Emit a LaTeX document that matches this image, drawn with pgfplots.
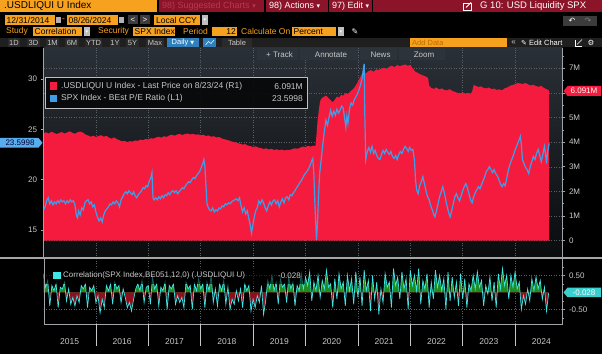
\documentclass[border=0pt]{standalone}
\usepackage{pgfplots}
\pgfplotsset{compat=1.18}
\usepackage{pgfplotstable}
\usepackage{fontspec}
\setmainfont{Liberation Sans}
\newfontfamily\symf{DejaVu Sans}
\definecolor{bbred}{HTML}{F51B3E}
\definecolor{bbblue}{HTML}{3D9FEA}
\definecolor{bbcyan}{HTML}{3FE6E6}
\definecolor{bbgreen}{HTML}{1E8C1E}
\definecolor{bbdred}{HTML}{8E1020}
\definecolor{bborange}{HTML}{F7A21E}
\definecolor{bbbar}{HTML}{8C1428}
\definecolor{bbdim}{HTML}{B8384F}
\definecolor{bbtxt}{HTML}{C8C8C8}
\definecolor{bbgrid}{HTML}{5A6068}
\definecolor{bbaxis}{HTML}{A0A4A8}
\definecolor{bgtop}{HTML}{2A3037}
\definecolor{bgbot}{HTML}{0A0C0E}
\definecolor{btn}{HTML}{2A2A2A}
\definecolor{btnl}{HTML}{3C3C3C}
\definecolor{toolbtn}{HTML}{2C333A}
\definecolor{dimorange}{HTML}{B86E00}
\newcommand\fs[1]{\fontsize{#1}{#1}\selectfont}

\pgfplotstableread{
x y
2015.00 4.36
2015.05 4.40
2015.10 4.35
2015.15 4.42
2015.20 4.38
2015.25 4.33
2015.30 4.37
2015.35 4.41
2015.40 4.35
2015.45 4.39
2015.50 4.44
2015.55 4.38
2015.60 4.34
2015.65 4.40
2015.70 4.43
2015.75 4.39
2015.80 4.31
2015.85 4.27
2015.90 4.22
2015.95 4.26
2016.00 4.21
2016.05 4.25
2016.10 4.28
2016.15 4.22
2016.20 4.26
2016.25 4.18
2016.30 4.14
2016.35 4.19
2016.40 4.12
2016.45 4.08
2016.50 4.03
2016.55 4.05
2016.60 4.00
2016.65 4.04
2016.70 4.02
2016.75 4.07
2016.80 4.05
2016.85 4.10
2016.90 4.08
2016.95 4.13
2017.00 4.11
2017.05 4.16
2017.10 4.14
2017.15 4.19
2017.20 4.22
2017.25 4.18
2017.30 4.24
2017.35 4.21
2017.40 4.27
2017.45 4.30
2017.50 4.26
2017.55 4.31
2017.60 4.33
2017.65 4.29
2017.70 4.33
2017.75 4.35
2017.80 4.31
2017.85 4.34
2017.90 4.30
2017.95 4.32
2018.00 4.28
2018.05 4.30
2018.10 4.25
2018.15 4.27
2018.20 4.22
2018.25 4.24
2018.30 4.19
2018.35 4.21
2018.40 4.15
2018.45 4.12
2018.50 4.09
2018.55 4.06
2018.60 4.02
2018.65 4.00
2018.70 3.96
2018.75 3.94
2018.80 3.90
2018.85 3.92
2018.90 3.86
2018.95 3.84
2019.00 3.80
2019.05 3.83
2019.10 3.78
2019.15 3.76
2019.20 3.72
2019.25 3.75
2019.30 3.70
2019.35 3.73
2019.40 3.68
2019.45 3.71
2019.50 3.67
2019.55 3.70
2019.60 3.66
2019.65 3.69
2019.70 3.68
2019.75 3.72
2019.80 3.75
2019.85 3.73
2019.90 3.78
2019.95 3.82
2020.00 3.80
2020.05 3.85
2020.10 3.82
2020.15 3.86
2020.19 3.84
2020.21 4.30
2020.23 4.85
2020.25 5.20
2020.27 5.55
2020.29 5.72
2020.32 5.80
2020.36 5.85
2020.40 5.88
2020.44 5.78
2020.48 5.70
2020.52 5.62
2020.56 5.72
2020.60 5.85
2020.64 5.80
2020.68 5.92
2020.72 5.88
2020.76 5.98
2020.80 5.95
2020.84 6.02
2020.88 6.10
2020.92 6.18
2020.96 6.30
2021.00 6.45
2021.04 6.62
2021.08 6.78
2021.12 6.84
2021.16 6.80
2021.20 6.88
2021.25 6.92
2021.30 6.86
2021.35 6.95
2021.40 6.93
2021.45 6.98
2021.50 7.02
2021.55 6.96
2021.60 7.06
2021.65 7.10
2021.70 7.04
2021.75 7.13
2021.80 7.08
2021.85 7.12
2021.90 7.15
2021.95 7.10
2022.00 7.13
2022.05 6.98
2022.10 6.85
2022.15 6.80
2022.20 6.74
2022.25 6.70
2022.30 6.66
2022.34 6.60
2022.36 6.30
2022.40 6.20
2022.45 6.16
2022.50 6.22
2022.55 6.14
2022.60 6.18
2022.65 6.12
2022.70 6.10
2022.75 6.15
2022.80 6.08
2022.85 6.04
2022.90 6.00
2022.95 5.98
2023.00 6.02
2023.05 5.97
2023.10 5.99
2023.15 5.96
2023.18 6.05
2023.21 6.32
2023.25 6.28
2023.30 6.24
2023.35 6.26
2023.40 6.20
2023.45 6.18
2023.50 6.22
2023.55 6.15
2023.60 6.17
2023.65 6.12
2023.70 6.14
2023.75 6.10
2023.80 6.18
2023.85 6.22
2023.90 6.28
2023.95 6.32
2024.00 6.35
2024.05 6.40
2024.10 6.38
2024.15 6.36
2024.20 6.40
2024.25 6.34
2024.30 6.30
2024.35 6.33
2024.40 6.27
2024.45 6.25
2024.50 6.28
2024.55 6.20
2024.60 6.15
2024.65 6.09
}\liqtable

\pgfplotstableread{
x y
2015.00 17.0
2015.03 17.3
2015.06 17.9
2015.09 18.2
2015.12 17.6
2015.15 17.9
2015.18 17.5
2015.21 17.8
2015.24 17.6
2015.27 17.9
2015.30 17.7
2015.33 18.0
2015.36 17.8
2015.39 17.9
2015.42 17.6
2015.45 17.9
2015.48 17.7
2015.51 18.0
2015.54 17.8
2015.57 17.9
2015.60 17.5
2015.63 16.4
2015.65 16.2
2015.67 16.9
2015.70 16.5
2015.73 17.2
2015.76 17.0
2015.79 17.7
2015.82 17.9
2015.85 18.0
2015.88 17.6
2015.91 17.8
2015.94 17.3
2015.97 17.5
2016.00 16.8
2016.03 16.3
2016.06 15.9
2016.09 16.2
2016.12 15.8
2016.15 16.5
2016.18 16.9
2016.21 17.1
2016.24 17.3
2016.27 17.6
2016.30 17.5
2016.33 17.8
2016.36 17.6
2016.39 17.9
2016.42 17.7
2016.45 17.3
2016.48 18.0
2016.51 18.3
2016.54 18.6
2016.57 18.8
2016.60 18.6
2016.63 18.9
2016.66 18.7
2016.69 18.5
2016.72 18.8
2016.75 18.4
2016.78 18.2
2016.81 18.5
2016.84 18.7
2016.87 18.9
2016.90 19.2
2016.93 19.1
2016.96 19.4
2016.99 19.3
2017.02 19.9
2017.05 20.2
2017.07 20.7
2017.09 18.2
2017.11 18.0
2017.14 18.2
2017.17 18.0
2017.20 18.3
2017.23 18.1
2017.26 18.4
2017.29 18.2
2017.32 18.5
2017.35 18.4
2017.38 18.7
2017.41 18.5
2017.44 18.8
2017.47 18.9
2017.50 18.7
2017.53 18.9
2017.56 18.6
2017.59 18.8
2017.62 19.0
2017.65 19.2
2017.68 19.1
2017.71 19.4
2017.74 19.6
2017.77 19.8
2017.80 19.7
2017.83 20.0
2017.86 20.2
2017.89 20.1
2017.92 20.4
2017.95 20.6
2017.98 20.8
2018.01 21.2
2018.04 21.6
2018.06 22.0
2018.08 21.3
2018.10 19.5
2018.12 17.6
2018.14 17.3
2018.17 17.0
2018.20 16.9
2018.23 17.2
2018.26 16.8
2018.29 17.0
2018.32 16.9
2018.35 17.2
2018.38 17.1
2018.41 17.4
2018.44 17.3
2018.47 17.6
2018.50 17.5
2018.53 17.7
2018.56 17.6
2018.59 17.8
2018.62 17.9
2018.65 18.0
2018.68 18.1
2018.71 17.9
2018.74 18.2
2018.77 17.4
2018.80 16.8
2018.83 17.2
2018.86 16.6
2018.89 16.9
2018.92 16.1
2018.95 15.4
2018.97 14.7
2018.99 15.3
2019.02 16.2
2019.05 16.9
2019.08 17.2
2019.11 17.9
2019.14 17.6
2019.17 18.0
2019.20 17.7
2019.23 17.2
2019.26 16.9
2019.29 17.4
2019.32 17.8
2019.35 17.5
2019.38 17.9
2019.41 18.0
2019.44 17.6
2019.47 17.9
2019.50 17.3
2019.53 17.8
2019.56 18.1
2019.59 17.7
2019.62 18.2
2019.65 18.3
2019.68 18.0
2019.71 18.5
2019.74 18.4
2019.77 18.7
2019.80 18.9
2019.83 19.2
2019.86 19.4
2019.89 19.7
2019.92 19.9
2019.95 20.2
2019.98 20.5
2020.01 20.7
2020.04 20.9
2020.07 21.2
2020.10 21.6
2020.12 21.9
2020.14 22.1
2020.16 20.5
2020.18 17.5
2020.20 15.2
2020.21 14.0
2020.23 15.8
2020.25 18.5
2020.27 20.6
2020.30 22.0
2020.33 23.5
2020.36 24.8
2020.39 25.9
2020.42 25.4
2020.45 26.2
2020.48 26.9
2020.51 26.3
2020.54 26.8
2020.57 26.4
2020.60 27.0
2020.63 26.6
2020.66 26.9
2020.69 27.3
2020.72 27.1
2020.75 26.0
2020.77 25.2
2020.79 26.3
2020.81 25.6
2020.84 27.0
2020.87 27.6
2020.90 27.4
2020.93 27.9
2020.96 28.2
2020.99 28.5
2021.02 28.9
2021.05 29.4
2021.08 30.0
2021.10 30.8
2021.12 31.5
2021.13 27.0
2021.15 22.0
2021.18 22.8
2021.21 23.2
2021.24 22.7
2021.27 23.3
2021.30 22.6
2021.33 22.9
2021.36 22.4
2021.39 22.1
2021.42 22.0
2021.45 22.5
2021.48 22.9
2021.51 22.6
2021.54 23.0
2021.57 22.7
2021.60 22.5
2021.63 22.8
2021.66 22.3
2021.69 22.1
2021.72 22.4
2021.75 22.0
2021.78 22.5
2021.81 22.8
2021.84 22.6
2021.87 23.0
2021.90 23.3
2021.93 23.1
2021.96 22.8
2021.99 23.2
2022.02 22.9
2022.05 23.0
2022.08 21.9
2022.10 20.0
2022.12 19.0
2022.15 18.6
2022.18 19.4
2022.21 19.8
2022.24 20.3
2022.27 19.6
2022.30 18.9
2022.33 18.3
2022.36 18.0
2022.39 17.4
2022.42 17.0
2022.45 16.5
2022.47 16.3
2022.50 16.9
2022.53 17.6
2022.56 18.3
2022.59 18.8
2022.62 19.3
2022.65 18.7
2022.68 17.9
2022.71 17.2
2022.74 16.6
2022.76 16.3
2022.79 16.9
2022.82 17.6
2022.85 18.3
2022.88 18.6
2022.91 18.2
2022.94 17.9
2022.97 18.4
2023.00 18.9
2023.03 19.3
2023.06 19.6
2023.09 19.2
2023.12 18.6
2023.15 18.0
2023.18 17.7
2023.21 18.3
2023.24 18.7
2023.27 19.0
2023.30 19.3
2023.33 19.1
2023.36 19.5
2023.39 19.9
2023.42 20.3
2023.45 20.8
2023.48 21.0
2023.51 21.3
2023.54 21.0
2023.57 20.7
2023.60 21.0
2023.63 20.6
2023.66 20.4
2023.69 20.0
2023.72 19.6
2023.75 19.3
2023.78 19.6
2023.81 19.4
2023.84 20.1
2023.87 20.9
2023.90 21.5
2023.93 21.9
2023.96 22.3
2023.99 22.8
2024.02 23.2
2024.05 23.6
2024.08 24.0
2024.10 24.3
2024.12 23.5
2024.14 22.0
2024.17 21.6
2024.20 21.2
2024.23 21.0
2024.26 20.6
2024.29 21.3
2024.32 21.8
2024.35 22.3
2024.38 22.0
2024.41 22.6
2024.44 23.0
2024.47 22.4
2024.50 21.8
2024.53 22.5
2024.56 23.3
2024.58 22.6
2024.60 21.6
2024.62 22.7
2024.65 23.6
}\petable

\pgfplotstableread{
x y
2015.00 0.55
2015.04 0.15
2015.08 0.35
2015.12 -0.40
2015.16 0.20
2015.20 0.05
2015.24 0.25
2015.28 -0.45
2015.32 0.15
2015.36 0.10
2015.40 0.30
2015.44 -0.25
2015.48 0.10
2015.52 -0.35
2015.56 -0.15
2015.60 -0.40
2015.64 -0.10
2015.68 -0.30
2015.72 0.20
2015.76 0.10
2015.80 0.25
2015.84 -0.45
2015.88 0.15
2015.92 0.05
2015.96 0.20
2016.00 -0.30
2016.04 -0.10
2016.08 -0.60
2016.12 -0.20
2016.16 -0.45
2016.20 0.20
2016.24 0.05
2016.28 0.25
2016.32 -0.35
2016.36 0.30
2016.40 0.10
2016.44 0.20
2016.48 -0.30
2016.52 0.10
2016.56 -0.15
2016.60 -0.45
2016.64 -0.30
2016.68 -0.55
2016.72 -0.20
2016.76 0.10
2016.80 0.25
2016.84 0.05
2016.88 0.35
2016.92 -0.30
2016.96 0.15
2017.00 0.20
2017.04 -0.35
2017.08 0.45
2017.12 0.10
2017.16 0.25
2017.20 -0.40
2017.24 0.15
2017.28 0.05
2017.32 0.30
2017.36 -0.50
2017.40 0.20
2017.44 0.10
2017.48 0.25
2017.52 -0.35
2017.56 -0.10
2017.60 -0.30
2017.64 -0.15
2017.68 -0.45
2017.72 0.30
2017.76 0.10
2017.80 0.20
2017.84 -0.50
2017.88 0.25
2017.92 0.05
2017.96 0.40
2018.00 0.10
2018.04 0.25
2018.08 -0.45
2018.12 0.30
2018.16 0.05
2018.20 0.50
2018.24 -0.30
2018.28 0.10
2018.32 -0.40
2018.36 0.25
2018.40 0.05
2018.44 0.35
2018.48 -0.35
2018.52 0.15
2018.56 -0.50
2018.60 -0.20
2018.64 -0.35
2018.68 0.05
2018.72 -0.25
2018.76 0.10
2018.80 -0.45
2018.84 0.25
2018.88 0.05
2018.92 0.20
2018.96 -0.55
2019.00 -0.20
2019.04 -0.45
2019.08 -0.10
2019.12 -0.30
2019.16 0.20
2019.20 -0.65
2019.24 -0.25
2019.28 0.35
2019.32 0.10
2019.36 0.50
2019.40 0.05
2019.44 0.30
2019.48 -0.35
2019.52 0.40
2019.56 0.15
2019.60 0.25
2019.64 -0.30
2019.68 0.45
2019.72 0.10
2019.76 0.30
2019.80 -0.40
2019.84 0.20
2019.88 0.05
2019.92 0.55
2019.96 0.10
2020.00 0.45
2020.04 0.20
2020.08 0.60
2020.12 -0.25
2020.16 0.30
2020.20 0.05
2020.24 0.50
2020.28 -0.15
2020.32 0.35
2020.36 0.10
2020.40 0.65
2020.44 0.15
2020.48 0.25
2020.52 -0.45
2020.56 0.40
2020.60 -0.20
2020.64 0.55
2020.68 0.10
2020.72 0.30
2020.76 -0.40
2020.80 0.50
2020.84 0.05
2020.88 0.40
2020.92 -0.35
2020.96 0.60
2021.00 -0.15
2021.04 0.45
2021.08 -0.40
2021.12 0.65
2021.16 0.05
2021.20 0.35
2021.24 -0.55
2021.28 0.50
2021.32 -0.20
2021.36 0.30
2021.40 -0.65
2021.44 0.10
2021.48 -0.30
2021.52 0.55
2021.56 0.15
2021.60 0.30
2021.64 -0.45
2021.68 0.70
2021.72 0.20
2021.76 0.45
2021.80 -0.20
2021.84 0.60
2021.88 0.10
2021.92 0.40
2021.96 -0.50
2022.00 0.65
2022.04 0.20
2022.08 0.50
2022.12 0.05
2022.16 0.70
2022.20 -0.35
2022.24 0.35
2022.28 0.10
2022.32 0.55
2022.36 -0.45
2022.40 0.30
2022.44 -0.20
2022.48 0.65
2022.52 0.15
2022.56 0.50
2022.60 0.05
2022.64 0.40
2022.68 -0.50
2022.72 0.60
2022.76 -0.25
2022.80 0.45
2022.84 -0.15
2022.88 0.30
2022.92 -0.40
2022.96 0.55
2023.00 -0.20
2023.04 0.40
2023.08 -0.45
2023.12 0.25
2023.16 0.05
2023.20 0.50
2023.24 0.10
2023.28 0.60
2023.32 0.15
2023.36 0.35
2023.40 -0.40
2023.44 0.20
2023.48 -0.05
2023.52 0.45
2023.56 -0.25
2023.60 0.30
2023.64 -0.45
2023.68 0.55
2023.72 0.10
2023.76 0.70
2023.80 0.20
2023.84 0.50
2023.88 -0.20
2023.92 0.50
2023.96 0.15
2024.00 0.60
2024.04 0.10
2024.08 0.30
2024.12 -0.50
2024.16 -0.10
2024.20 -0.35
2024.24 0.10
2024.28 -0.25
2024.32 0.40
2024.36 0.05
2024.40 0.45
2024.44 0.10
2024.48 0.35
2024.52 -0.20
2024.56 0.15
2024.60 -0.55
2024.64 -0.03
}\corrtable

\begin{document}
\begin{tikzpicture}
\path[use as bounding box] (0,0) rectangle (602pt,354pt);
\fill[black] (0,0) rectangle (602pt,354pt);
\shade[top color=bgtop, bottom color=bgbot] (43.5pt,98pt) rectangle (562.5pt,306pt);

% ---------- main panel: liquidity (right axis) ----------
\begin{axis}[
  at={(43.5pt,98pt)}, anchor=south west,
  width=519pt, height=208pt, scale only axis,
  xmin=2015, xmax=2024.905,
  ymin=-0.62, ymax=7.82,
  axis line style={draw=none},
  xtick={2016,2017,2018,2019,2020,2021,2022,2023,2024},
  xticklabels={}, xtick style={draw=none},
  ytick={0,1,2,3,4,5,6,7},
  yticklabels={0,1M,2M,3M,4M,5M,{},7M},
  minor ytick={0.5,1.5,2.5,3.5,4.5,5.5,6.5,7.5},
  ytick pos=right, yticklabel pos=right,
  tick align=outside,
  major tick length=3pt, minor tick length=2pt,
  ytick style={bbaxis, line width=0.6pt},
  xmajorgrids, ymajorgrids,
  major grid style={bbgrid, dash pattern=on 1pt off 1.5pt, line width=0.5pt},
  yticklabel style={font=\fs{8}, text=bbtxt},
  /pgf/number format/assume math mode=true,
]
\addplot[fill=bbred, draw=none] table {\liqtable} \closedcycle;
\end{axis}

% ---------- main panel: P/E (left axis) ----------
\begin{axis}[
  at={(43.5pt,98pt)}, anchor=south west,
  width=519pt, height=208pt, scale only axis,
  xmin=2015, xmax=2024.905,
  ymin=12.42, ymax=33.07,
  axis line style={draw=none},
  xtick=\empty,
  ytick={15,20,25,30},
  ytick pos=left, yticklabel pos=left,
  tick align=outside,
  major tick length=3pt,
  ytick style={bbaxis, line width=0.6pt},
  yticklabel style={font=\fs{8}, text=bbtxt},
  /pgf/number format/assume math mode=true,
]
\addplot[bbblue, line width=1.2pt] table {\petable};
\end{axis}

% ---------- bottom panel: correlation ----------
\begin{axis}[
  at={(43.5pt,30pt)}, anchor=south west,
  width=519pt, height=65pt, scale only axis,
  xmin=2015, xmax=2024.905,
  ymin=-0.93, ymax=0.98,
  axis line style={draw=none},
  xtick={2016,2017,2018,2019,2020,2021,2022,2023,2024},
  xticklabels={}, xtick style={draw=none},
  ytick={-0.5,0.5},
  yticklabels={-0.50,0.50},
  minor ytick={-0.75,-0.25,0.25,0.75},
  ytick pos=right, yticklabel pos=right,
  tick align=outside,
  major tick length=3pt, minor tick length=2pt,
  ytick style={bbaxis, line width=0.6pt},
  xmajorgrids, ymajorgrids,
  major grid style={bbgrid, dash pattern=on 1pt off 1.5pt, line width=0.5pt},
  yticklabel style={font=\fs{8}, text=bbtxt},
  /pgf/number format/assume math mode=true,
]
\begin{scope}
\clip (axis cs:2014,0) rectangle (axis cs:2026,2);
\addplot[draw=none, fill=bbgreen] table {\corrtable} \closedcycle;
\end{scope}
\begin{scope}
\clip (axis cs:2014,-2) rectangle (axis cs:2026,0);
\addplot[draw=none, fill=bbdred] table {\corrtable} \closedcycle;
\end{scope}
\addplot[bbcyan, line width=0.7pt] table {\corrtable};
\end{axis}

% ---------- overlays in image coordinates ----------
\begin{scope}[shift={(0,354pt)}, yscale=-1, x=1pt, y=1pt]
% axis lines
\draw[bbaxis, line width=0.7pt] (43.5,48)--(43.5,257) (562.5,48)--(562.5,257);
\draw[bbaxis, line width=0.7pt] (44,259)--(44,324)--(562.5,324)--(562.5,259);
% separator
\draw[gray!70, line width=2pt] (0,258)--(602,258);
% year labels and separators
\foreach \k in {0,...,8} {\draw[gray!45, line width=0.6pt] (95.9+52.4*\k,324)--(95.9+52.4*\k,346);}
\foreach \yr [count=\i from 0] in {2015,2016,2017,2018,2019,2020,2021,2022,2023,2024}
  {\node[text=bbtxt, font=\fs{8.5}, inner sep=0] at (69.7+52.4*\i,341.7) {\yr};}

% main legend
\fill[black!85!bgtop, fill opacity=0.9] (45,77) rectangle (307,108.5);
\draw[gray!50, line width=0.5pt] (45,77) rectangle (307,108.5);
\fill[bbred] (49.5,82.5) rectangle (57,90);
\fill[bbblue] (49.5,95) rectangle (57,102.5);
\node[anchor=west, text=bbtxt, font=\fs{8.5}, inner sep=0] at (61,86.3) {.USDLIQUI U Index - Last Price on 8/23/24 (R1)};
\node[anchor=west, text=bbtxt, font=\fs{8.5}, inner sep=0] at (61,98.8) {SPX Index - BEst P/E Ratio (L1)};
\node[anchor=east, text=bbtxt, font=\fs{8.5}, inner sep=0] at (303,86.3) {6.091M};
\node[anchor=east, text=bbtxt, font=\fs{8.5}, inner sep=0] at (303,98.8) {23.5998};

% bottom legend
\fill[black, fill opacity=0.6] (45,268) rectangle (305,284);
\fill[bbcyan] (53,271.5) rectangle (60.5,279);
\node[anchor=west, text=bbtxt, font=\fs{8}, inner sep=0] at (63,275.5) {Correlation(SPX Index,BE051,12,0) (.USDLIQUI U)};
\node[anchor=east, text=bbtxt, font=\fs{8}, inner sep=0] at (301,275.5) {-0.028};

% value tags
\fill[bbblue!85!white] (0,138)--(38.5,138)--(42.5,142.8)--(38.5,147.6)--(0,147.6)--cycle;
\node[text=black!80!blue, font=\fs{8}, inner sep=0] at (20,142.8) {23.5998};
\fill[bbred] (563.5,91)--(567.5,86)--(601,86)--(601,96)--(567.5,96)--cycle;
\node[text=white, font=\fs{8}, inner sep=0] at (584,91) {6.091M};
\fill[bbcyan!90!black] (563.5,292.4)--(567.5,287.6)--(601,287.6)--(601,297.2)--(567.5,297.2)--cycle;
\node[text=white, font=\fs{8}, inner sep=0] at (584,292.4) {-0.028};

% ---------- header ----------
\fill[bborange] (0,0) rectangle (157,12);
\node[anchor=west, text=black, font=\fs{10}, inner sep=0] at (4,6.3) {.USDLIQUI U Index};
\fill[bbbar] (159,0) rectangle (602,12);
\draw[black, line width=1.2pt] (265,0)--(265,12) (328.5,0)--(328.5,12) (372.5,0)--(372.5,12);
\node[anchor=west, text=bbdim, font=\fs{9}, inner sep=0] at (162,6.3) {98) Suggested Charts {\symf\fs{7}▾}};
\node[anchor=west, text=white, font=\fs{9}, inner sep=0] at (269,6.3) {98) Actions {\symf\fs{7}▾}};
\node[anchor=west, text=white, font=\fs{9}, inner sep=0] at (332,6.3) {97) Edit {\symf\fs{7}▾}};
\draw[white, line width=0.8pt] (463,3) rectangle (471,10.5);
\draw[white, line width=0.8pt] (466,7.5)--(471,2.5);
\node[anchor=west, text=white, font=\fs{9.5}, inner sep=0] at (480,6.3) {G 10: USD Liquidity SPX};

% row 2
\fill[bborange] (5,15) rectangle (55,25);
\node[anchor=west, text=black, font=\fs{8.5}, inner sep=0] at (6.5,20.2) {12/31/2014};
\fill[gray!60] (56,17) rectangle (60.5,23);
\node[text=bborange, font=\fs{8.5}, inner sep=0] at (63.5,20) {-};
\fill[bborange] (67,15) rectangle (118,25);
\node[anchor=west, text=black, font=\fs{8.5}, inner sep=0] at (68.5,20.2) {08/26/2024};
\fill[gray!60] (119,17) rectangle (123.5,23);
\fill[btnl] (128,15.5) rectangle (138,24.5);
\fill[btnl] (140,15.5) rectangle (150,24.5);
\node[text=white, font=\fs{8}, inner sep=0] at (133,20) {<};
\node[text=white, font=\fs{8}, inner sep=0] at (145,20) {>};
\fill[bborange] (154,15) rectangle (200,25);
\node[anchor=west, text=black, font=\fs{8.5}, inner sep=0] at (156,20.2) {Local CCY};
\fill[gray!50] (202,15) rectangle (208,25);
\node[text=white, font=\fs{5}\symf, inner sep=0] at (205,20) {▾};
\fill[btnl] (563,16) rectangle (597,26);
\node[text=white, font=\fs{8}\symf, inner sep=0] at (572,21) {↶};
\node[text=gray, font=\fs{8}\symf, inner sep=0] at (588,21) {↷};

% row 3
\node[anchor=west, text=bborange, font=\fs{8.5}, inner sep=0] at (6,31.8) {Study};
\fill[bborange] (33,27) rectangle (82,36.5);
\node[anchor=west, text=black, font=\fs{8.5}, inner sep=0] at (34.5,31.8) {Correlation};
\fill[gray!50] (84,27) rectangle (90,36.5);
\node[text=white, font=\fs{5}\symf, inner sep=0] at (87,31.8) {▾};
\node[anchor=west, text=bborange, font=\fs{8.5}, inner sep=0] at (98,31.8) {Security};
\fill[bborange] (133,27) rectangle (175,36.5);
\node[anchor=west, text=black, font=\fs{8.5}, inner sep=0] at (134.5,31.8) {SPX Index};
\node[anchor=west, text=bborange, font=\fs{8.5}, inner sep=0] at (183,31.8) {Period};
\fill[bborange] (212,27) rectangle (237,36.5);
\node[anchor=east, text=black, font=\fs{8.5}, inner sep=0] at (236,31.8) {12};
\node[anchor=west, text=bborange, font=\fs{8.5}, inner sep=0] at (241,31.8) {Calculate On};
\fill[bborange] (292,27) rectangle (336,36.5);
\node[anchor=west, text=black, font=\fs{8.5}, inner sep=0] at (293.5,31.8) {Percent};
\fill[gray!50] (338,27) rectangle (344,36.5);
\node[text=white, font=\fs{5}\symf, inner sep=0] at (341,31.8) {▾};
\node[text=white, font=\fs{8}\symf, inner sep=0] at (355,31.5) {✎};

% row 4
\fill[black!88!white] (0,38) rectangle (602,47.5);
\foreach \lab/\xa/\xb in {1D/8/20, 3D/27/40, 1M/46/59, 6M/65/79, YTD/85/102, 1Y/110/120, 5Y/126/139, Max/146/164}
 {\fill[btn] (\xa,38.5) rectangle (\xb,47); \node[text=bbtxt, font=\fs{7.5}, inner sep=0] at ({(\xa+\xb)/2},42.8) {\lab};}
\fill[bbblue!80!black] (167,38.5) rectangle (199,47);
\node[text=white, font=\fs{7.5}, inner sep=0] at (183,42.8) {Daily {\symf\fs{5}▼}};
\fill[bbblue!80!black] (203,38.5) rectangle (216,47);
\draw[white, line width=0.5pt] (205.5,45)--(208.5,41.5)--(211,43.5)--(214,40);
\fill[btn] (222,38.5) rectangle (252,47);
\node[text=bbtxt, font=\fs{7.5}, inner sep=0] at (237,42.8) {Table};
\fill[bborange] (410,38.5) rectangle (507,47);
\node[anchor=west, text=dimorange, font=\fs{7.5}, inner sep=0] at (412,42.8) {Add Data};
\node[text=bbtxt, font=\fs{8}, inner sep=0] at (513.5,42.6) {«};
\node[anchor=west, text=white, font=\fs{7.5}, inner sep=0] at (521,42.8) {{\symf\fs{7}✎} Edit Chart};
\draw[white, line width=0.6pt] (575.5,40)--(575.5,46)--(582,46);
\draw[white, line width=0.6pt] (577,44.5)--(582,39.5);
\node[text=white, font=\fs{7.5}\symf, inner sep=0] at (591,42.8) {⚙};

% row 5 toolbar
\foreach \lab/\xa/\xb in {{+ Track}/257/298, {Annotate}/300/358, {News}/360/397, {Zoom}/399/445}
 {\fill[toolbtn] (\xa,48.5) rectangle (\xb,60); \node[text=bbtxt, font=\fs{8}, inner sep=0] at ({(\xa+\xb)/2+2},54.3) {\lab};}
\end{scope}
\end{tikzpicture}
\end{document}
